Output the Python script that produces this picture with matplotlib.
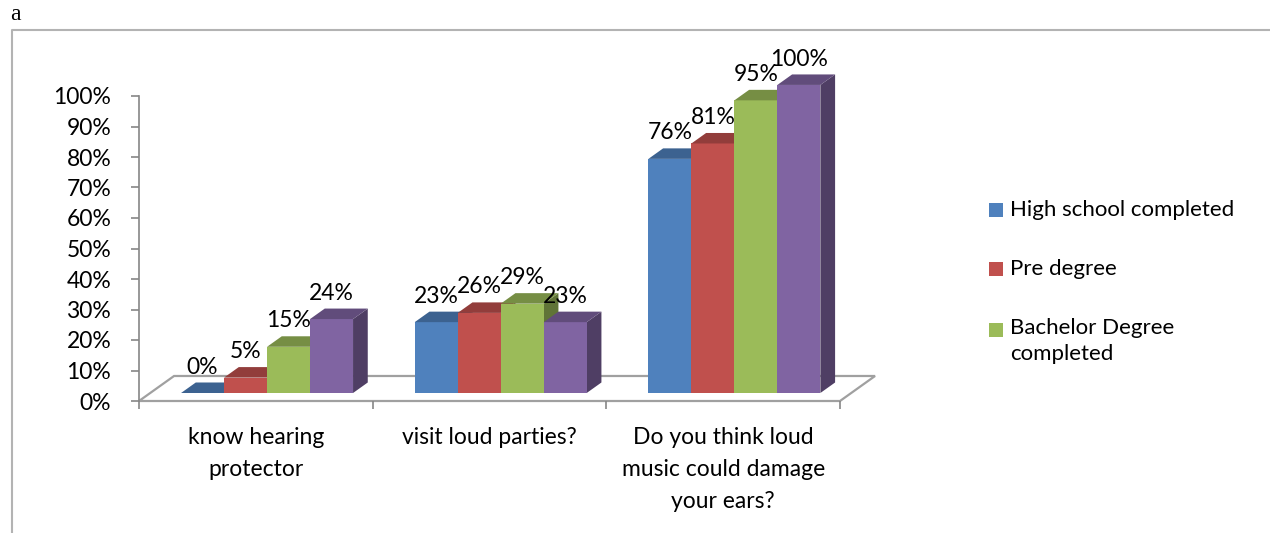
import numpy as np
import matplotlib
matplotlib.use("Agg")
import matplotlib.pyplot as plt
from matplotlib.patches import Polygon, Rectangle
from matplotlib.lines import Line2D

plt.rcParams['font.family'] = ['Lato', 'DejaVu Sans']

# survey answers (share of "yes") per education level
categories = ["know hearing\nprotector", "visit loud parties?",
              "Do you think loud\nmusic could damage\nyour ears?"]
series = ["High school completed", "Pre degree",
          "Bachelor Degree\ncompleted", "Master degree"]
high_school = [0, 23, 76]
pre_degree = [5, 26, 81]
bachelor = [15, 29, 95]
master = [24, 23, 100]
values = [high_school, pre_degree, bachelor, master]

colors = ["#4F81BD", "#C0504D", "#9BBB59", "#8064A2"]
tick_labels = ["%d%%" % v for v in range(0, 101, 10)]

W, H = 1270, 533
fig = plt.figure(figsize=(W / 100, H / 100), dpi=100)

# outer chart frame (top and left edges only show)
fig.add_artist(Line2D([12 / W, 12 / W, 1.0], [0.0, 1 - 30 / H, 1 - 30 / H],
                      color="#b3b3b3", lw=1.5, transform=fig.transFigure))
fig.text(10 / W, 1 - 15 / H, "a", family=["Liberation Serif", "DejaVu Serif"],
         fontsize=17, va="center", ha="left")

ax = fig.add_axes([139 / W, (H - 401) / H, 701 / W, 305 / H])
ax.set_xlim(0, 3)
ax.set_ylim(0, 100)

# 3d look: floor depth and bar depth in data units
floor_dx, floor_dy = 0.15, 8.2
bar_front = 0.32      # fraction of floor depth where bar fronts sit
bar_depth = 0.42      # fraction of floor depth taken by a bar
bar_w = 0.184
scale = 1.01


def shade(c, f):
    r, g, b = matplotlib.colors.to_rgb(c)
    return (r * f, g * f, b * f)


# floor
floor = Polygon([(0, 0), (3, 0), (3 + floor_dx, floor_dy), (floor_dx, floor_dy)],
                closed=True, facecolor="white", edgecolor="#a0a0a0", lw=1.6,
                clip_on=False, zorder=1)
ax.add_patch(floor)

x0 = bar_front * floor_dx
y0 = bar_front * floor_dy
ddx = bar_depth * floor_dx
ddy = bar_depth * floor_dy

for ci in range(len(categories)):
    left = ci + 0.5 - 2 * bar_w + x0
    for si, vals in enumerate(values):
        v = vals[ci]
        xl = left + si * bar_w
        xr = xl + bar_w
        top = y0 + v * scale
        z = 3 + ci * 10 + si
        front = Polygon([(xl, y0), (xr, y0), (xr, top), (xl, top)],
                        facecolor=colors[si], edgecolor="none", clip_on=False, zorder=z)
        lid = Polygon([(xl, top), (xr, top), (xr + ddx, top + ddy), (xl + ddx, top + ddy)],
                      facecolor=shade(colors[si], 0.76), edgecolor="none",
                      clip_on=False, zorder=z)
        side = Polygon([(xr, y0), (xr + ddx, y0 + ddy), (xr + ddx, top + ddy), (xr, top)],
                       facecolor=shade(colors[si], 0.62), edgecolor="none",
                       clip_on=False, zorder=z)
        for p in (side, front, lid):
            ax.add_patch(p)
        ax.text((xl + xr) / 2, top + 8.5, "%d%%" % v, ha="center", va="center",
                fontsize=16.5, zorder=50, clip_on=False)

# axes styling
for s in ("top", "right", "bottom"):
    ax.spines[s].set_visible(False)
ax.spines["left"].set_color("#868686")
ax.spines["left"].set_linewidth(1.2)
ax.set_yticks(range(0, 101, 10))
ax.set_yticklabels(tick_labels)
ax.tick_params(axis="y", direction="out", length=6, width=1.2, color="#868686",
               labelsize=16.5, pad=14)
ax.set_xticks([0, 1, 2, 3])
ax.set_xticklabels([])
ax.tick_params(axis="x", which="major", direction="out", length=6, width=1.2,
               color="#868686")
ax.set_xticks([0.5, 1.5, 2.5], minor=True)
ax.set_xticklabels(categories, minor=True, fontsize=16.5, linespacing=1.65)
ax.tick_params(axis="x", which="minor", length=0, pad=19)
ax.patch.set_visible(False)

# legend (only three entries fit in the chart area)
leg_y = [210, 269, 330]
for name, color, y in zip(series[:3], colors[:3], leg_y):
    fig.add_artist(Rectangle((989 / W, 1 - (y + 7) / H), 14 / W, 14 / H,
                             facecolor=color, edgecolor="none",
                             transform=fig.transFigure))
    multi = "\n" in name
    fig.text(1010 / W, 1 - (y - 12 if multi else y) / H, name, ha="left",
             va="top" if multi else "center", fontsize=16, linespacing=1.35,
             transform=fig.transFigure)

fig.savefig("out.png", dpi=100)
